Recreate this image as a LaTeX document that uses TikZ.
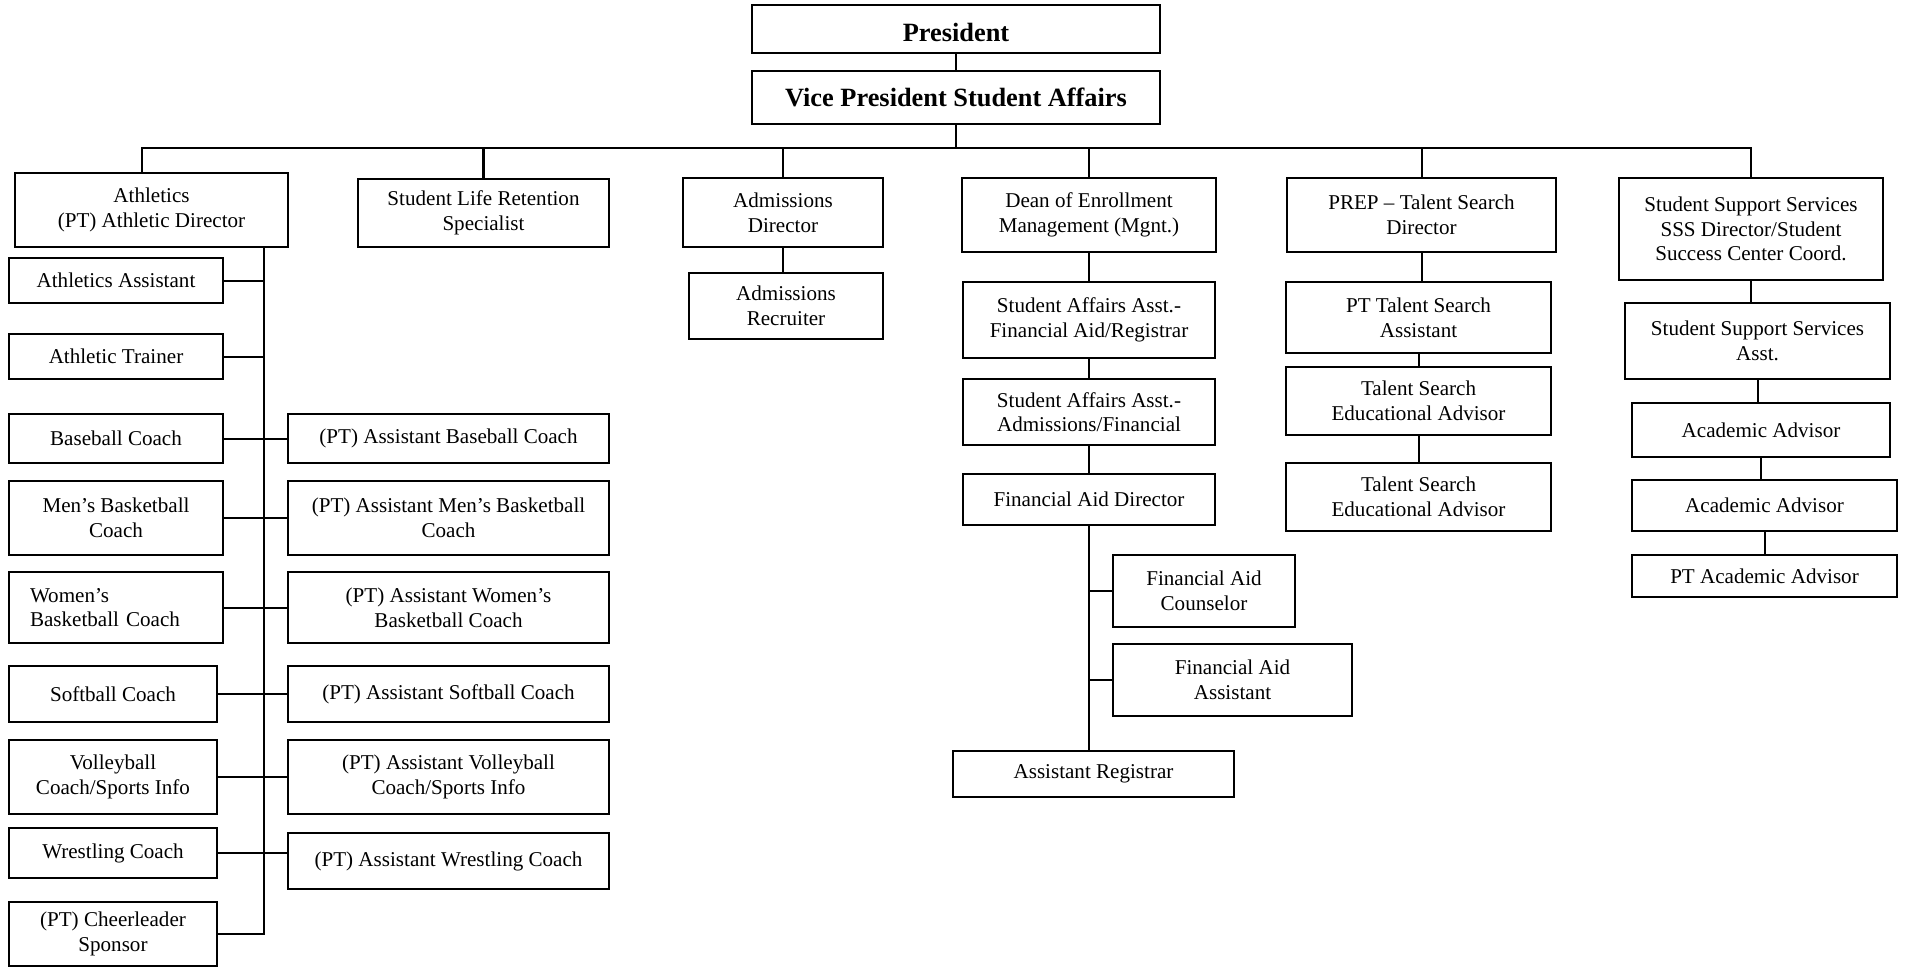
\documentclass[tikz,border=0pt]{standalone}
\usepackage{fontspec}
\setmainfont{Liberation Serif}
\usepackage{tikz}

\begin{document}
\begin{tikzpicture}[
  x=0.02cm, y=-0.02cm,               % one unit per pixel, y grows downwards
  every node/.style={align=center,inner sep=1pt,font=\fontsize{12}{14}\selectfont}, % body text
  post/.style={draw, line width=1.15pt},
  head/.style={post, font=\fontsize{15}{17}\selectfont\bfseries},
  dims/.style 2 args={minimum width=#1*0.02cm, minimum height=#2*0.02cm},
  link/.style={line width=1.15pt}
]
\useasboundingbox (0,0) rectangle (1905,968);

% top of the chart
\node[head, dims={408}{48}, text height=14.5pt, text depth=0pt] (pres) at (956,29) {President};
\node[head, dims={408}{53}] (vp) at (956,97.5) {Vice President Student Affairs};

% departments
\node[post, dims={273}{74}] (ath) at (151.5,210) {Athletics\\(PT) Athletic Director};
\node[post, dims={251}{68}] (slr) at (483.5,213) {Student Life Retention\\Specialist};
\node[post, dims={200}{69}] (admd) at (783,212.5) {Admissions\\Director};
\node[post, dims={254}{74}] (dean) at (1089,215) {Dean of Enrollment\\Management (Mgnt.)};
\node[post, dims={269}{74}] (prep) at (1421.5,215) {PREP -- Talent Search\\Director};
\node[post, dims={264}{102}] (sss) at (1751,229) {Student Support Services\\SSS Director/Student\\Success Center Coord.};

% athletics staff
\node[post, dims={214}{45}] (aasst) at (116,280.5) {Athletics Assistant};
\node[post, dims={214}{45}] (atr) at (116,356.5) {Athletic Trainer};
\node[post, dims={214}{49}] (base) at (116,438.5) {Baseball Coach};
\node[post, dims={214}{74}] (mbb) at (116,518) {Men's Basketball\\Coach};
\node[post, dims={214}{71}, align=left, text width=3.44cm] (wbb) at (116,607.5) {Women's\\Basketball Coach};
\node[post, dims={208}{56}] (soft) at (113,694) {Softball Coach};
\node[post, dims={208}{74}] (vb) at (113,777) {Volleyball\\Coach/Sports Info};
\node[post, dims={208}{50}] (wr) at (113,853) {Wrestling Coach};
\node[post, dims={208}{64}] (cheer) at (113,934) {(PT) Cheerleader\\Sponsor};

\node[post, dims={321}{49}] (abase) at (448.5,438.5) {(PT) Assistant Baseball Coach};
\node[post, dims={321}{74}] (ambb) at (448.5,518) {(PT) Assistant Men's Basketball\\Coach};
\node[post, dims={321}{71}] (awbb) at (448.5,607.5) {(PT) Assistant Women's\\Basketball Coach};
\node[post, dims={321}{56}] (asoft) at (448.5,694) {(PT) Assistant Softball Coach};
\node[post, dims={321}{74}] (avb) at (448.5,777) {(PT) Assistant Volleyball\\Coach/Sports Info};
\node[post, dims={321}{56}] (awr) at (448.5,861) {(PT) Assistant Wrestling Coach};

% admissions
\node[post, dims={194}{66}] (admr) at (786,306) {Admissions\\Recruiter};

% enrollment management
\node[post, dims={252}{76}] (safa) at (1089,320) {Student Affairs Asst.-\\Financial Aid/Registrar};
\node[post, dims={252}{66}] (saaf) at (1089,412) {Student Affairs Asst.-\\Admissions/Financial};
\node[post, dims={252}{51}] (fad) at (1089,499.5) {Financial Aid Director};
\node[post, dims={182}{72}] (fac) at (1204,591) {Financial Aid\\Counselor};
\node[post, dims={239}{72}] (faa) at (1232.5,680) {Financial Aid\\Assistant};
\node[post, dims={281}{46}] (areg) at (1093.5,774) {Assistant Registrar};

% talent search
\node[post, dims={265}{71}] (ptts) at (1418.5,317.5) {PT Talent Search\\Assistant};
\node[post, dims={265}{68}] (tsea1) at (1418.5,401) {Talent Search\\Educational Advisor};
\node[post, dims={265}{68}] (tsea2) at (1418.5,497) {Talent Search\\Educational Advisor};

% student support services
\node[post, dims={265}{76}] (ssa) at (1757.5,341) {Student Support Services\\Asst.};
\node[post, dims={258}{54}] (aca1) at (1761,430) {Academic Advisor};
\node[post, dims={265}{51}] (aca2) at (1764.5,505.5) {Academic Advisor};
\node[post, dims={265}{42}] (ptaa) at (1764.5,576) {PT Academic Advisor};

% lines
\coordinate (bus) at ([yshift=-0.46cm]vp.south);
\coordinate (spine) at ([xshift=-0.5cm]ath.south east);
\draw[link] (pres) -- (vp);
\draw[link] (vp) -- (bus);
\draw[link] ([xshift=-0.19cm]ath.north) |- (bus) -| (sss.north);
\foreach \n in {slr,admd,dean,prep}
  \draw[link] (\n.north) -- (\n.north |- bus);

\draw[link] (spine) |- (cheer.east);
\foreach \n in {aasst,atr}
  \draw[link] (\n.east) -- (\n.east -| spine);
\foreach \a/\b in {base/abase,mbb/ambb,wbb/awbb,soft/asoft,vb/avb,wr/awr}
  \draw[link] (\a.east) -- (\a.east -| \b.west);

\foreach \a/\b in {admd/admr,dean/safa,safa/saaf,saaf/fad,prep/ptts,ptts/tsea1,tsea1/tsea2,sss/ssa,ssa/aca1,aca1/aca2,aca2/ptaa}
  \draw[link] (\a.south) -- (\a.south |- \b.north);
\draw[link] (fad.south) -- (fad.south |- areg.north);
\foreach \n in {fac,faa}
  \draw[link] (\n.west) -- (\n.west -| fad.south);
\end{tikzpicture}
\end{document}
